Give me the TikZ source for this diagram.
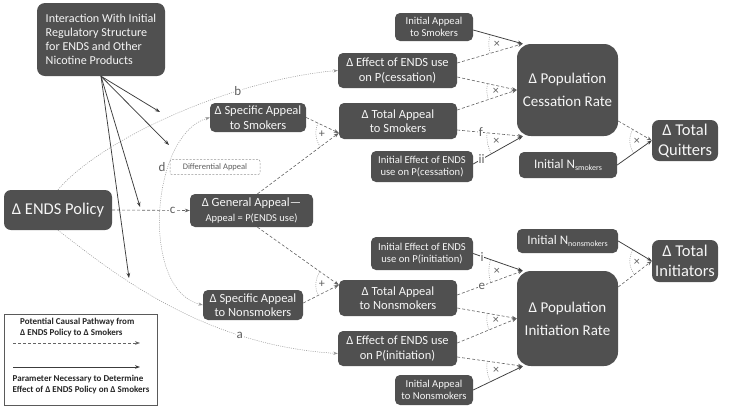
\documentclass[tikz,border=0pt]{standalone}
\usepackage{fontspec}
\setmainfont{Carlito}
\usetikzlibrary{arrows.meta,calc}
\definecolor{boxc}{RGB}{80,80,80}
\definecolor{txtc}{RGB}{246,246,246}
\definecolor{dashc}{RGB}{100,100,100}
\definecolor{solidc}{RGB}{60,60,60}
\definecolor{dotc}{RGB}{150,150,150}
\definecolor{labc}{RGB}{95,95,95}
\definecolor{legc}{RGB}{90,90,90}
\tikzset{
 box/.style={fill=boxc, rounded corners=5pt, text=txtc, align=center, inner sep=0pt},
 sz/.style 2 args={minimum width=#1, minimum height=#2},
 fA/.style={font=\fontsize{12.5}{14.5}\selectfont},
 fB/.style={font=\fontsize{10.6}{12.5}\selectfont},
 pathway/.style={draw=dashc, line width=0.6pt, dash pattern=on 3pt off 2pt, -{Stealth[length=5pt,width=3.6pt]}},
 param/.style={draw=solidc, line width=0.75pt, -{Stealth[length=5pt,width=3.6pt]}},
 dotline/.style={draw=dotc, line width=0.5pt, dash pattern=on 1pt off 1.2pt, -{Stealth[length=4.5pt,width=3.2pt]}},
 arcmark/.style={draw=dotc, line width=0.5pt, dash pattern=on 1pt off 1.2pt},
 marksym/.style={text=labc, font=\fontsize{12}{12}\selectfont, inner sep=0pt},
 elabel/.style={text=labc, font=\fontsize{13}{13}\selectfont, fill=white, inner sep=0.6pt},
 legtext/.style={font=\bfseries\fontsize{9}{11.5}\selectfont, text=black!85, align=left, inner sep=0pt},
}
\newcommand{\jmark}[6]{%
  \draw[arcmark] let \p1=($(#2)-(#1)$), \p2=($(#3)-(#1)$),
    \n1={mod(atan2(\y1,\x1)+360,360)}, \n2={mod(atan2(\y2,\x2)+360,360)}
    in ($(#1)+(\n1:#5)$) arc[start angle=\n1, end angle=\n2, radius=#5]
    ($(#1)+({(\n1+\n2)/2}:#6)$) node[marksym]{#4};}
\begin{document}
\begin{tikzpicture}[x=1pt,y=-1pt]
\fill[white] (0,0) rectangle (730,408);
\useasboundingbox (0,0) rectangle (730,408);

% nodes
\node[box, sz={128pt}{73pt}, rounded corners=8pt, align=left, font=\fontsize{12.1}{14.2}\selectfont] (inter) at (101,39.5) {Interaction With Initial\\Regulatory Structure\\for ENDS and Other\\Nicotine Products};
\node[box, sz={108pt}{40pt}, rounded corners=7pt, font=\fontsize{16.5}{18}\selectfont] (policy) at (58,210) {Δ ENDS Policy};
\node[box, sz={123pt}{33pt}, fA] (general) at (251.5,210.5) {Δ General Appeal—\\{\fontsize{10.5}{12}\selectfont Appeal = P(ENDS use)}};
\node[draw=dotc, dash pattern=on 2pt off 1.5pt, line width=0.5pt, rounded corners=2pt, fill=white, text=labc, font=\fontsize{8.5}{9}\selectfont, sz={90pt}{15pt}, inner sep=0pt] (diff) at (215,167) {Differential Appeal};
\node[box, sz={96pt}{29pt}, fA] (specS) at (258,117.5) {Δ Specific Appeal\\to Smokers};
\node[box, sz={100pt}{30pt}, fA] (specN) at (253,305) {Δ Specific Appeal\\to Nonsmokers};
\node[box, sz={119pt}{35pt}, fA] (effC) at (397.5,70.5) {Δ Effect of ENDS use\\on P(cessation)};
\node[box, sz={118pt}{36pt}, fA] (totS) at (398,121) {Δ Total Appeal\\to Smokers};
\node[box, sz={78pt}{28pt}, fB] (initAS) at (434,27) {Initial Appeal\\to Smokers};
\node[box, sz={102pt}{31pt}, fB] (initEC) at (422,166.5) {Initial Effect of ENDS\\use on P(cessation)};
\node[box, sz={101pt}{92pt}, rounded corners=14pt, font=\fontsize{15}{23}\selectfont] (popC) at (567.5,90) {Δ Population\\Cessation Rate};
\node[box, sz={98pt}{26pt}, font=\fontsize{13}{14}\selectfont] (initNS) at (568,165) {Initial N\raisebox{-2.5pt}{\fontsize{8}{8}\selectfont smokers}};
\node[box, sz={66pt}{41pt}, rounded corners=7pt, font=\fontsize{16.5}{20}\selectfont] (quit) at (685,140.5) {Δ Total\\Quitters};
\node[box, sz={101pt}{24pt}, font=\fontsize{13}{14}\selectfont] (initNN) at (567.5,241) {Initial N\raisebox{-2.5pt}{\fontsize{8}{8}\selectfont nonsmokers}};
\node[box, sz={66pt}{42pt}, rounded corners=7pt, font=\fontsize{16.5}{20}\selectfont] (init) at (685,261) {Δ Total\\Initiators};
\node[box, sz={102pt}{33pt}, fB] (initEI) at (422,253.5) {Initial Effect of ENDS\\use on P(initiation)};
\node[box, sz={118pt}{36pt}, fA] (totN) at (398,298) {Δ Total Appeal\\to Nonsmokers};
\node[box, sz={101pt}{95pt}, rounded corners=14pt, font=\fontsize{15}{23}\selectfont] (popI) at (567.5,318.5) {Δ Population\\Initiation Rate};
\node[box, sz={119pt}{35pt}, fA] (effI) at (397.5,348.5) {Δ Effect of ENDS use\\on P(initiation)};
\node[box, sz={78pt}{30pt}, fB] (initAN) at (434,390) {Initial Appeal\\to Nonsmokers};

% legend
\node[draw=legc, line width=0.7pt, fill=white, sz={153pt}{91pt}] (legend) at (80.5,359.5) {};
\node[legtext, anchor=west] (lt1) at (20,327.5) {Potential Causal Pathway from\\Δ ENDS Policy to Δ Smokers};
\node[legtext, anchor=west] (lt2) at (12.5,384.5) {Parameter Necessary to Determine\\Effect of Δ ENDS Policy on Δ Smokers};
\coordinate (L1s) at (13,343);
\coordinate (L1e) at (140,343);
\coordinate (L2s) at (13,367);
\coordinate (L2e) at (140,367);
\draw[pathway] (L1s) -- (L1e);
\draw[param] (L2s) -- (L2e);

% attachment points
\coordinate (gTop) at ([shift={(6,0)}]general.north);
\coordinate (gBot) at ([shift={(6,0)}]general.south);
\coordinate (tS) at ([shift={(0,12)}]totS.west);
\coordinate (tN) at ([shift={(0,-13)}]totN.west);
\coordinate (sS) at (specS.east);
\coordinate (sN) at ([shift={(0,-2)}]specN.east);
\coordinate (pA) at ([shift={(6,0)}]popC.north west);
\coordinate (pB) at (popC.west);
\coordinate (pC) at ([shift={(6,0)}]popC.south west);
\coordinate (iAS) at ([shift={(0,3)}]initAS.east);
\coordinate (eC1) at ([shift={(0,-7.5)}]effC.east);
\coordinate (eC2) at ([shift={(0,6.5)}]effC.east);
\coordinate (tS1) at ([shift={(0,-11)}]totS.east);
\coordinate (tS2) at ([shift={(0,9)}]totS.east);
\coordinate (iEC) at ([shift={(0,-2.5)}]initEC.east);
\coordinate (qT) at (quit.west);
\coordinate (pC2) at ([shift={(0,31)}]popC.east);
\coordinate (iNS) at (initNS.east);
\coordinate (qA) at ([shift={(6,0)}]popI.north west);
\coordinate (qB) at (popI.west);
\coordinate (qC) at ([shift={(6,0)}]popI.south west);
\coordinate (iEI) at (initEI.east);
\coordinate (tN1) at ([shift={(0,-3)}]totN.east);
\coordinate (tN2) at ([shift={(0,10)}]totN.east);
\coordinate (eI1) at ([shift={(0,-5.5)}]effI.east);
\coordinate (eI2) at ([shift={(0,8.5)}]effI.east);
\coordinate (iAN) at (initAN.east);
\coordinate (nT) at (init.west);
\coordinate (pI2) at ([shift={(0,-31.5)}]popI.east);
\coordinate (iNN) at (initNN.east);
\coordinate (fa) at (160,112);
\coordinate (fb) at (169,145);
\coordinate (fc) at (140,207);
\coordinate (fd) at (129,278);

% dotted pathways
\draw[dotline] (policy.north) .. controls (100,140) and (230,80) .. (effC.west) node[elabel,pos=0.7]{b};
\draw[dotline] (policy.south) .. controls (110,270) and (200,345) .. ([shift={(0,5)}]effI.west) node[elabel,pos=0.74]{a};
\draw[dotline, {Stealth[length=4.5pt,width=3.2pt]}-{Stealth[length=4.5pt,width=3.2pt]}] (specS.west) .. controls (150,135) and (140,290) .. (specN.west);
\node[text=labc, font=\fontsize{13}{13}\selectfont, inner sep=0pt] (dlab) at (162,167) {d};
\draw[pathway] (policy.east) -- (general.west) node[elabel,pos=0.78]{c};

% regulatory fan
\draw[param] (inter.south) -- (fa);
\draw[param] (inter.south) -- (fb);
\draw[param] (inter.south) -- (fc);
\draw[param] (inter.south) -- (fd);

% appeal connectors
\draw[pathway] (gTop) -- (tS);
\draw[pathway] (sS) -- (tS);
\draw[pathway] (gBot) -- (tN);
\draw[pathway] (sN) -- (tN);

% cessation
\draw[param] (iAS) -- (pA);
\draw[pathway] (eC1) -- (pA);
\draw[pathway] (eC2) -- (pB);
\draw[pathway] (tS1) -- (pB);
\draw[pathway] (tS2) -- node[elabel,pos=0.36]{f} (pC);
\draw[param] (iEC) -- node[elabel,pos=0.17]{ii} (pC);
\draw[pathway] (pC2) -- (qT);
\draw[param] (iNS) -- (qT);

% initiation
\draw[param] (iEI) -- node[elabel,pos=0.18]{i} (qA);
\draw[pathway] (tN1) -- node[elabel,pos=0.375]{e} (qA);
\draw[pathway] (tN2) -- (qB);
\draw[pathway] (eI1) -- (qB);
\draw[pathway] (eI2) -- (qC);
\draw[param] (iAN) -- (qC);
\draw[pathway] (pI2) -- (nT);
\draw[param] (iNN) -- (nT);

% junction marks
\jmark{tS}{gTop}{sS}{+}{23pt}{17pt}
\jmark{tN}{gBot}{sN}{+}{23pt}{17pt}
\jmark{pA}{iAS}{eC1}{×}{34pt}{26pt}
\jmark{pB}{eC2}{tS1}{×}{30pt}{21pt}
\jmark{pC}{tS2}{iEC}{×}{36pt}{27pt}
\jmark{qT}{pC2}{iNS}{×}{22pt}{15pt}
\jmark{qA}{iEI}{tN1}{×}{34pt}{26pt}
\jmark{qB}{tN2}{eI1}{×}{30pt}{21pt}
\jmark{qC}{eI2}{iAN}{×}{36pt}{27pt}
\jmark{nT}{iNN}{pI2}{×}{22pt}{15pt}
\end{tikzpicture}
\end{document}
